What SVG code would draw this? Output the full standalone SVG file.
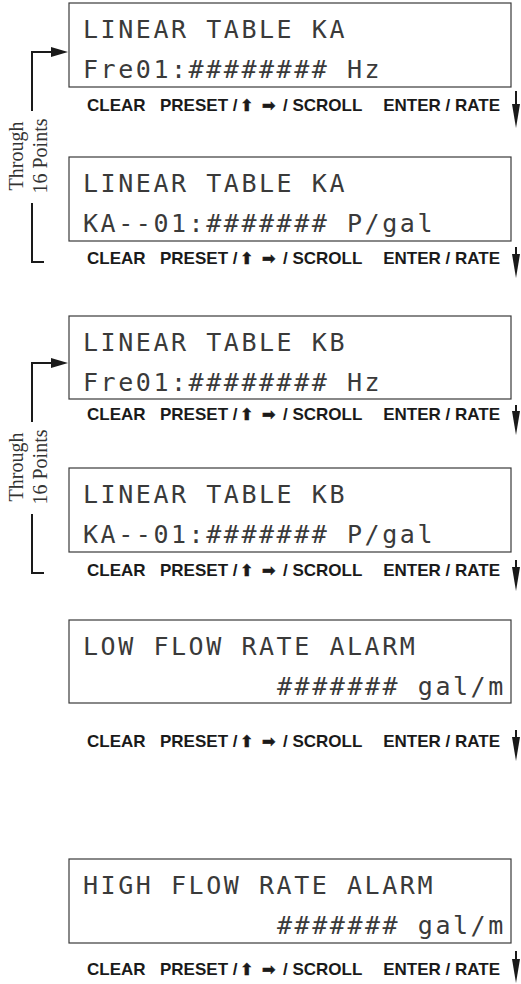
<svg xmlns="http://www.w3.org/2000/svg" width="521" height="984" viewBox="0 0 521 984">
<defs>
<style>
.box{fill:#fff;stroke:#3a3a3a;stroke-width:1.2}
.lcd{font-family:"DejaVu Sans Mono",monospace;font-size:25px;letter-spacing:2.55px;fill:#3a3a3a}
.btn{font-family:"Liberation Sans",Arial,sans-serif;font-weight:bold;font-size:17px;fill:#1a1a1a}
.sym{font-family:"DejaVu Sans",sans-serif;font-size:16px;fill:#1a1a1a;stroke:#1a1a1a;stroke-width:0.6}
.lbl{font-family:"Liberation Serif","Times New Roman",serif;font-size:20px;fill:#333}
.ln{stroke:#1a1a1a;stroke-width:2;fill:none}
.dn{stroke:#1a1a1a;stroke-width:2;fill:none;marker-end:url(#ahDown)}
.rt{stroke:#1a1a1a;stroke-width:2;fill:none;marker-end:url(#ahRight)}
</style>
<marker id="ahDown" viewBox="0 -4 24 8" refX="12" refY="0" markerWidth="24" markerHeight="8" markerUnits="userSpaceOnUse" orient="auto">
<path d="M0,-4 L24,0 L0,4 z" fill="#1a1a1a"/>
</marker>
<marker id="ahRight" viewBox="0 -5 17 10" refX="8" refY="0" markerWidth="17" markerHeight="10" markerUnits="userSpaceOnUse" orient="auto">
<path d="M0,-5 L17,0 L0,5 z" fill="#1a1a1a"/>
</marker>
</defs>
<rect width="521" height="984" fill="#fff"/>

<g id="node-ka-freq">
<rect class="box" x="69" y="3" width="442" height="84"/>
<text class="lcd" x="83" y="38">LINEAR TABLE KA</text>
<text class="lcd" x="83" y="78">Fre01:######## Hz</text>
<text class="btn" y="111"><tspan x="87">CLEAR</tspan><tspan x="160">PRESET /</tspan><tspan x="283">/ SCROLL</tspan><tspan x="500" text-anchor="end">ENTER / RATE</tspan></text>
<text class="sym" y="111"><tspan x="240">⬆</tspan><tspan x="262">➡</tspan></text>
</g>

<g id="node-ka-k">
<rect class="box" x="69" y="157" width="442" height="84"/>
<text class="lcd" x="83" y="192">LINEAR TABLE KA</text>
<text class="lcd" x="83" y="232">KA--01:####### P/gal</text>
<text class="btn" y="264"><tspan x="87">CLEAR</tspan><tspan x="160">PRESET /</tspan><tspan x="283">/ SCROLL</tspan><tspan x="500" text-anchor="end">ENTER / RATE</tspan></text>
<text class="sym" y="264"><tspan x="240">⬆</tspan><tspan x="262">➡</tspan></text>
</g>

<g id="node-kb-freq">
<rect class="box" x="69" y="316" width="442" height="83"/>
<text class="lcd" x="83" y="351">LINEAR TABLE KB</text>
<text class="lcd" x="83" y="391">Fre01:######## Hz</text>
<text class="btn" y="420"><tspan x="87">CLEAR</tspan><tspan x="160">PRESET /</tspan><tspan x="283">/ SCROLL</tspan><tspan x="500" text-anchor="end">ENTER / RATE</tspan></text>
<text class="sym" y="420"><tspan x="240">⬆</tspan><tspan x="262">➡</tspan></text>
</g>

<g id="node-kb-k">
<rect class="box" x="69" y="468" width="442" height="84"/>
<text class="lcd" x="83" y="503">LINEAR TABLE KB</text>
<text class="lcd" x="83" y="543">KA--01:####### P/gal</text>
<text class="btn" y="576"><tspan x="87">CLEAR</tspan><tspan x="160">PRESET /</tspan><tspan x="283">/ SCROLL</tspan><tspan x="500" text-anchor="end">ENTER / RATE</tspan></text>
<text class="sym" y="576"><tspan x="240">⬆</tspan><tspan x="262">➡</tspan></text>
</g>

<g id="node-low-alarm">
<rect class="box" x="69" y="620" width="442" height="83"/>
<text class="lcd" x="83" y="655">LOW FLOW RATE ALARM</text>
<text class="lcd" x="277" y="695">####### gal/m</text>
<text class="btn" y="747"><tspan x="87">CLEAR</tspan><tspan x="160">PRESET /</tspan><tspan x="283">/ SCROLL</tspan><tspan x="500" text-anchor="end">ENTER / RATE</tspan></text>
<text class="sym" y="747"><tspan x="240">⬆</tspan><tspan x="262">➡</tspan></text>
</g>

<g id="node-high-alarm">
<rect class="box" x="69" y="859" width="442" height="84"/>
<text class="lcd" x="83" y="894">HIGH FLOW RATE ALARM</text>
<text class="lcd" x="277" y="934">####### gal/m</text>
<text class="btn" y="975"><tspan x="87">CLEAR</tspan><tspan x="160">PRESET /</tspan><tspan x="283">/ SCROLL</tspan><tspan x="500" text-anchor="end">ENTER / RATE</tspan></text>
<text class="sym" y="975"><tspan x="240">⬆</tspan><tspan x="262">➡</tspan></text>
</g>

<g id="label-ka">
<text class="lbl" transform="translate(23,156) rotate(-90)" text-anchor="middle">Through</text>
<text class="lbl" transform="translate(47,156) rotate(-90)" text-anchor="middle">16 Points</text>
</g>
<g id="label-kb">
<text class="lbl" transform="translate(23,467) rotate(-90)" text-anchor="middle">Through</text>
<text class="lbl" transform="translate(47,467) rotate(-90)" text-anchor="middle">16 Points</text>
</g>

<g id="connectors">
<path class="rt" d="M32,111 V52 H59"/>
<path class="ln" d="M32,203 V262 H44"/>
<path class="rt" d="M32,422 V363 H59"/>
<path class="ln" d="M32,514 V573 H44"/>
<path class="dn" d="M516,91 V116"/>
<path class="dn" d="M516,247 V266"/>
<path class="dn" d="M516,405 V423"/>
<path class="dn" d="M516,560 V579"/>
<path class="dn" d="M516,730 V749"/>
<path class="dn" d="M516,951 V971"/>
</g>
</svg>
